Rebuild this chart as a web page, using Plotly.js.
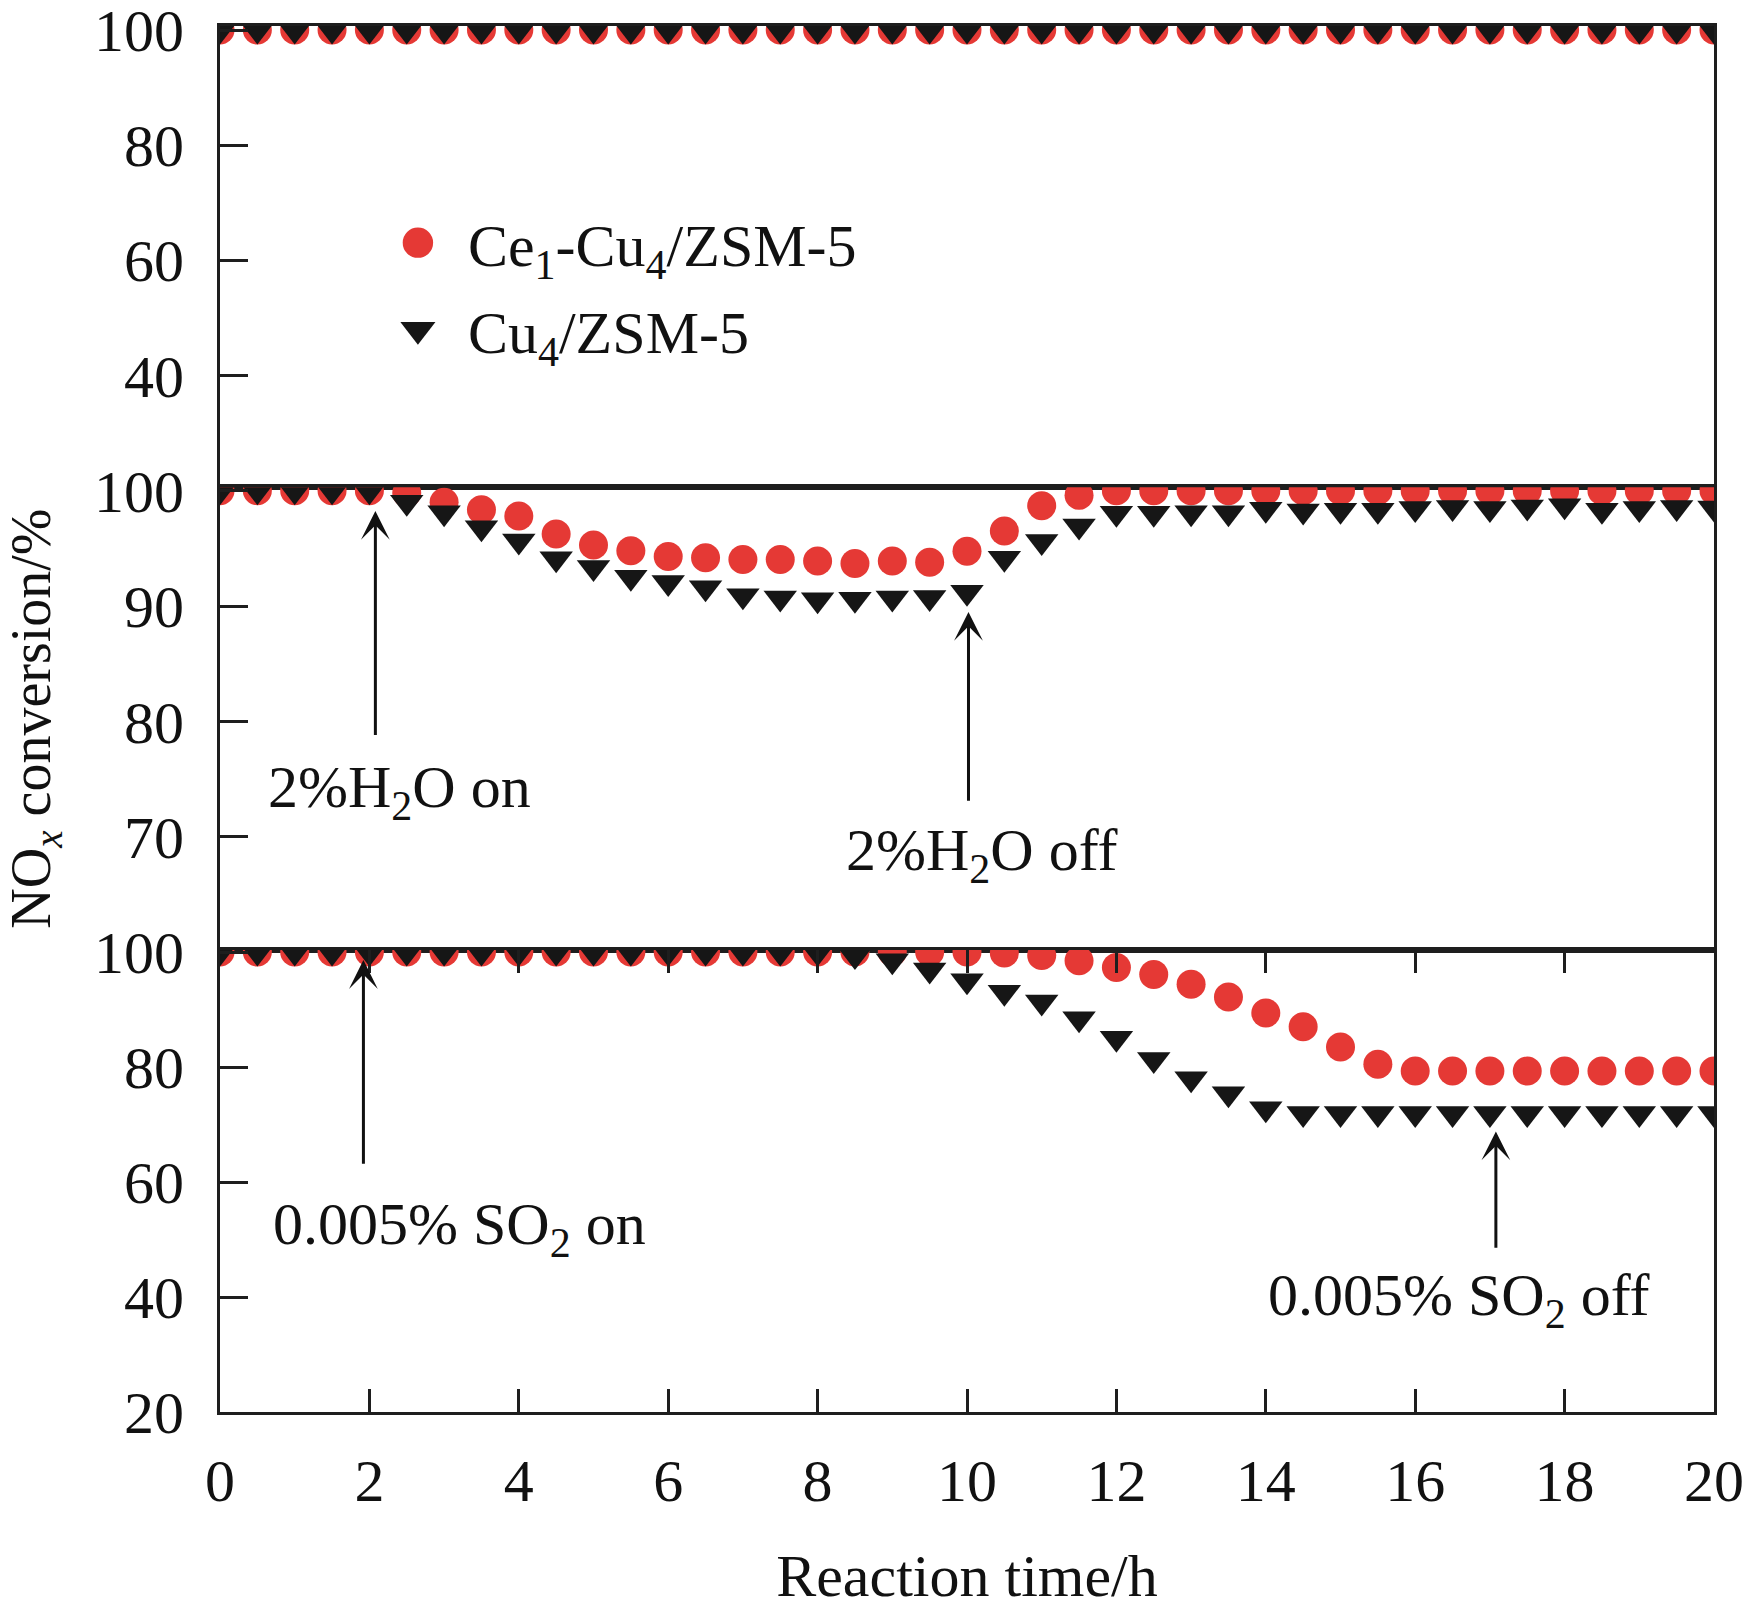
<!DOCTYPE html>
<html>
<head>
<meta charset="utf-8">
<script src="https://cdn.plot.ly/plotly-3.0.1.min.js"></script>
<style>
html, body { margin: 0; padding: 0; background: #ffffff; }
#chart { width: 1747px; height: 1615px; }
</style>
</head>
<body>
<div id="chart"></div>
<script>
// ---------- data ----------
const times = [0, 0.5, 1, 1.5, 2, 2.5, 3, 3.5, 4, 4.5, 5, 5.5, 6, 6.5, 7, 7.5, 8, 8.5, 9, 9.5,
               10, 10.5, 11, 11.5, 12, 12.5, 13, 13.5, 14, 14.5, 15, 15.5, 16, 16.5, 17, 17.5, 18, 18.5, 19, 19.5, 20];

// top panel: no H2O / SO2
const baseCe = [100, 100, 100, 100, 100, 100, 100, 100, 100, 100, 100, 100, 100, 100, 100, 100, 100, 100, 100, 100,
                100, 100, 100, 100, 100, 100, 100, 100, 100, 100, 100, 100, 100, 100, 100, 100, 100, 100, 100, 100, 100];
const baseCu = [100, 100, 100, 100, 100, 100, 100, 100, 100, 100, 100, 100, 100, 100, 100, 100, 100, 100, 100, 100,
                100, 100, 100, 100, 100, 100, 100, 100, 100, 100, 100, 100, 100, 100, 100, 100, 100, 100, 100, 100, 100];

// middle panel: 2% H2O on (2 h) / off (10 h)
const h2oCe = [100, 100, 100, 100, 100, 99.8, 99.0, 98.35, 97.8, 96.25, 95.3, 94.8, 94.3, 94.2, 94.05, 94.05, 93.9, 93.7, 93.9, 93.8,
               94.75, 96.5, 98.7, 99.6, 100, 100, 100, 100, 100, 100, 100, 100, 100, 100, 100, 100, 100, 100, 100, 100, 100];
const h2oCu = [100, 100, 100, 100, 100, 99.0, 98.1, 96.8, 95.65, 94.1, 93.35, 92.5, 92.05, 91.6, 90.9, 90.7, 90.55, 90.6, 90.7, 90.75,
               91.2, 94.15, 95.6, 96.95, 98.05, 98.05, 98.1, 98.1, 98.4, 98.25, 98.3, 98.3, 98.45, 98.55, 98.45, 98.6, 98.7, 98.3, 98.45, 98.55, 98.5];

// bottom panel: 0.005% SO2 on (2 h) / off (17 h)
const so2Ce = [100, 100, 100, 100, 100, 100, 100, 100, 100, 100, 100, 100, 100, 100, 100, 100, 100, 100, 100, 100,
               100, 99.85, 99.4, 98.5, 97.3, 96.1, 94.4, 92.2, 89.4, 87.0, 83.5, 80.5, 79.3, 79.3, 79.3, 79.3, 79.3, 79.3, 79.3, 79.3, 79.3];
const so2Cu = [100, 100, 100, 100, 100, 100, 100, 100, 100, 100, 100, 100, 100, 100, 100, 100, 100, 99.4, 98.5, 96.9,
               95.0, 93.0, 91.3, 88.4, 85.0, 81.3, 77.95, 75.35, 72.75, 71.9, 71.9, 71.9, 71.9, 71.9, 71.9, 71.9, 71.9, 71.9, 71.9, 71.9, 71.9];

const seriesNames = ['Ce<sub>1</sub>-Cu<sub>4</sub>/ZSM-5', 'Cu<sub>4</sub>/ZSM-5'];
const xTickVals = [0, 2, 4, 6, 8, 10, 12, 14, 16, 18, 20];
const yTopTicks = [40, 60, 80, 100];
const yMidTicks = [70, 80, 90, 100];
const yBotTicks = [20, 40, 60, 80, 100];

// ---------- style ----------
const FONT = 'Liberation Serif, Times New Roman, serif';
const RED = '#e53935';
const BLACK = '#161616';
const LINE = '#1e1e1e';
const MSIZE = 29;

function pts(y, color, symbol, yaxis, name, show) {
  return {
    x: times, y: y, type: 'scatter', mode: 'markers', name: name,
    legendgroup: name, showlegend: show, xaxis: 'x', yaxis: yaxis,
    cliponaxis: true, hoverinfo: 'skip',
    marker: { color: color, symbol: symbol, size: MSIZE, line: { width: 0 } }
  };
}

const data = [
  pts(baseCe, RED, 'circle', 'y', seriesNames[0], true),
  pts(baseCu, BLACK, 'triangle-down', 'y', seriesNames[1], true),
  pts(h2oCe, RED, 'circle', 'y2', seriesNames[0], false),
  pts(h2oCu, BLACK, 'triangle-down', 'y2', seriesNames[1], false),
  pts(so2Ce, RED, 'circle', 'y3', seriesNames[0], false),
  pts(so2Cu, BLACK, 'triangle-down', 'y3', seriesNames[1], false)
];

function yax(domain, range, ticks, extra) {
  return Object.assign({
    domain: domain, range: range, anchor: 'x',
    tickmode: 'array', tickvals: ticks, ticktext: ticks.map(String),
    ticks: 'inside', ticklen: 28, tickwidth: 3, tickcolor: LINE,
    ticklabelstandoff: 21, ticklabeloverflow: 'allow',
    showline: true, linewidth: 3, linecolor: LINE, mirror: true,
    showgrid: false, zeroline: false, automargin: false,
    tickfont: { family: FONT, size: 60, color: '#111' }
  }, extra || {});
}

function arrow(x, yTip, yTail, yref) {
  return {
    xref: 'x', yref: yref, x: x, y: yTip,
    axref: 'x', ayref: yref, ax: x, ay: yTail,
    text: '', showarrow: true, arrowhead: 3, arrowsize: 1.6,
    arrowwidth: 3, arrowcolor: '#111'
  };
}

function label(text, x, y, yref) {
  return {
    xref: 'x', yref: yref, x: x, y: y, text: text, showarrow: false,
    xanchor: 'center', yanchor: 'middle',
    font: { family: FONT, size: 60, color: '#111' }
  };
}

const layout = {
  width: 1747, height: 1615,
  margin: { l: 220, r: 33, t: 26, b: 203, pad: 0 },
  paper_bgcolor: '#ffffff', plot_bgcolor: '#ffffff',
  font: { family: FONT, size: 60, color: '#111' },
  showlegend: true,
  legend: {
    x: 0.099, y: 0.8765, xanchor: 'left', yanchor: 'top',
    bgcolor: 'rgba(0,0,0,0)', borderwidth: 0,
    font: { family: FONT, size: 60, color: '#111' },
    itemwidth: 90, tracegroupgap: 6, traceorder: 'grouped'
  },
  xaxis: {
    range: [0, 20], anchor: 'y3',
    tickmode: 'array', tickvals: xTickVals, ticktext: xTickVals.map(String),
    ticks: 'inside', ticklen: 23, tickwidth: 3, tickcolor: LINE,
    ticklabelstandoff: 14, ticklabeloverflow: 'allow',
    showline: true, linewidth: 3, linecolor: LINE, mirror: 'all',
    showgrid: false, zeroline: false, automargin: false,
    tickfont: { family: FONT, size: 60, color: '#111' },
    title: { text: 'Reaction time/h', font: { family: FONT, size: 60, color: '#111' }, standoff: 41 }
  },
  yaxis: yax([0.6672, 1], [20.6, 100.7], yTopTicks),
  yaxis2: yax([0.3333, 0.6672], [60.2, 100.3], yMidTicks, {
    title: { text: 'NO<sub><i>x</i></sub> conversion/%', font: { family: FONT, size: 56, color: '#111' }, standoff: 49 }
  }),
  yaxis3: yax([0, 0.3333], [20, 100.35], yBotTicks),
  annotations: [
    arrow(2.08, 98.25, 78.7, 'y2'),
    arrow(10.02, 89.5, 73.0, 'y2'),
    arrow(1.92, 98.6, 62.9, 'y3'),
    arrow(17.08, 68.8, 48.3, 'y3'),
    label('2%H<sub>2</sub>O on', 2.40, 73.9, 'y2'),
    label('2%H<sub>2</sub>O off', 10.20, 68.5, 'y2'),
    label('0.005% SO<sub>2</sub> on', 3.20, 52.0, 'y3'),
    label('0.005% SO<sub>2</sub> off', 16.58, 39.6, 'y3')
  ]
};

Plotly.newPlot('chart', data, layout, { displayModeBar: false, staticPlot: true }).then(function (gd) {
  // enlarge the legend symbols to the size used in the figure
  gd.querySelectorAll('.legend .legendpoints path.scatterpts').forEach(function (p) {
    const t = p.getAttribute('transform') || '';
    p.setAttribute('transform', t + ' scale(1.9)');
  });
});
</script>
</body>
</html>
